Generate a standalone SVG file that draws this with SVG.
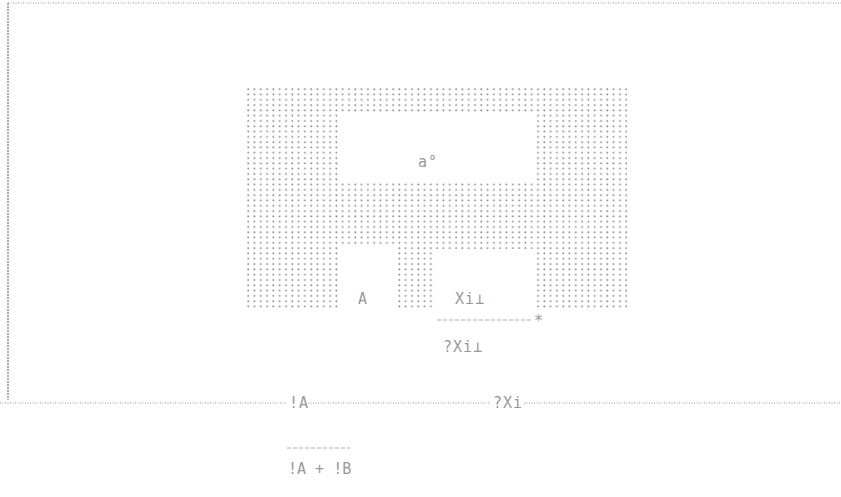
<svg xmlns="http://www.w3.org/2000/svg" width="841" height="497" viewBox="0 0 841 497">
<style>
.t{font-family:"DejaVu Sans Mono","Liberation Mono",monospace;font-size:15px;fill:#999;letter-spacing:1px;}
.n{letter-spacing:0px;}
.dl{stroke:#999;stroke-width:1;fill:none;stroke-dasharray:1 1.5;}
.dash{stroke:#aaa;stroke-width:1;fill:none;stroke-dasharray:4 2;}
</style>
<defs>
<pattern id="dots" patternUnits="userSpaceOnUse" x="247" y="88" width="6.3" height="5.3">
<circle cx="1.2" cy="1.2" r="0.95" fill="#888"/>
</pattern>
</defs>
<rect width="841" height="497" fill="#fff"/>
<g id="frame">
<line class="dl" x1="8" y1="3" x2="841" y2="3"/>
<line x1="8" y1="3" x2="8" y2="400" stroke="#777" stroke-width="1.2" stroke-dasharray="2 1"/>
</g>
<g id="region">
<path fill="url(#dots)" fill-rule="evenodd" d="M247,88 H627 V310 H533 V249 H433 V310 H397 V247 H339 V310 H247 Z M340,113 H534 V183 H340 Z"/>
</g>
<g id="node-a"><text class="t" x="418" y="167">a°</text></g>
<g id="node-A"><text class="t" x="358" y="304">A</text></g>
<g id="node-Xi"><text class="t" x="455" y="304">Xi⊥</text></g>
<g id="connectors">
<line class="dash" x1="437" y1="320" x2="532" y2="320"/>
<line class="dl" x1="0" y1="403" x2="287" y2="403"/>
<line class="dl" x1="308" y1="403" x2="491" y2="403"/>
<line class="dl" x1="524" y1="403" x2="841" y2="403"/>
<line class="dash" x1="287" y1="448" x2="350" y2="448"/>
</g>
<g id="labels">
<text class="t" x="534" y="326">*</text>
<text class="t" x="443" y="352">?Xi⊥</text>
<text class="t" x="289" y="408">!A</text>
<text class="t" x="493" y="408">?Xi</text>
<text class="t n" x="288" y="474">!A + !B</text>
</g>
</svg>
